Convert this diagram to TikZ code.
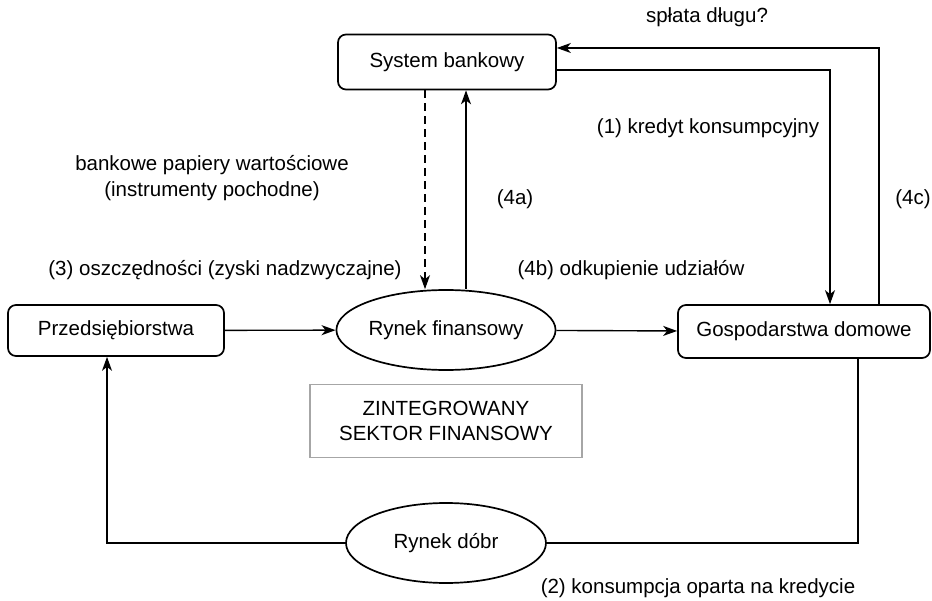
\documentclass[tikz,border=0pt]{standalone}
\usepackage{fontspec}
\setmainfont{Liberation Sans}
\usetikzlibrary{arrows.meta,shapes.geometric}
\begin{document}
\begin{tikzpicture}[x=1pt,y=-1pt,
  font=\fontsize{20.5}{25.5}\selectfont,
  box/.style={draw,line width=1.7pt,rounded corners=8pt,inner sep=0pt},
  ell/.style={draw,ellipse,line width=1.7pt,minimum width=200pt,minimum height=80pt,inner sep=0pt},
  conn/.style={line width=1.4pt},
  arr/.style={conn,-{Stealth[length=14pt,width=10pt,inset=4pt]}},
  lbl/.style={inner sep=0pt}
]
\useasboundingbox (0,0) rectangle (932,601);
\node[box,minimum width=218pt,minimum height=55pt] (bank) at (447,62) {System bankowy};
\node[box,minimum width=216pt,minimum height=51pt] (firm) at (116,330.5) {Przedsiębiorstwa};
\node[ell] (fin) at (446,330) {Rynek finansowy};
\node[box,minimum width=252pt,minimum height=53pt] (hh) at (804,331.5) {Gospodarstwa domowe};
\node[draw=gray!70,line width=1.7pt,minimum width=272pt,minimum height=73pt,align=center] (zint) at (446,421) {ZINTEGROWANY\\SEKTOR FINANSOWY};
\node[ell] (goods) at (446,543) {Rynek dóbr};

\coordinate (xa) at (466,0);
\coordinate (xd) at (425,0);
\coordinate (xr1) at (830,0);
\coordinate (xr2) at (879,0);
\coordinate (xr3) at (858,0);
\coordinate (xl) at (107,0);
\coordinate (y1) at (0,70);
\coordinate (y2) at (0,48);

\draw[arr] (firm) -- (fin);
\draw[arr] (fin) -- (hh);
\draw[arr] (fin.north -| xa) -- (bank.south -| xa);
\draw[arr,dash pattern=on 8pt off 5pt] (bank.south -| xd) -- (fin.north -| xd);
\draw[arr] (bank.east |- y1) -| (hh.north -| xr1);
\draw[arr] (hh.north -| xr2) |- (bank.east |- y2);
\draw[conn] (hh.south -| xr3) |- (goods.east);
\draw[arr] (goods.west) -| (firm.south -| xl);

\node[lbl] (t1) at (707,17) {spłata długu?};
\node[lbl] (t2) at (708,128) {(1) kredyt konsumpcyjny};
\node[lbl,align=center] (t3) at (212,178) {bankowe papiery wartościowe\\(instrumenty pochodne)};
\node[lbl] (t4) at (515,199) {(4a)};
\node[lbl] (t5) at (913,199) {(4c)};
\node[lbl] (t6) at (225,270) {(3) oszczędności (zyski nadzwyczajne)};
\node[lbl] (t7) at (631,270) {(4b) odkupienie udziałów};
\node[lbl] (t8) at (698,588) {(2) konsumpcja oparta na kredycie};
\end{tikzpicture}
\end{document}
